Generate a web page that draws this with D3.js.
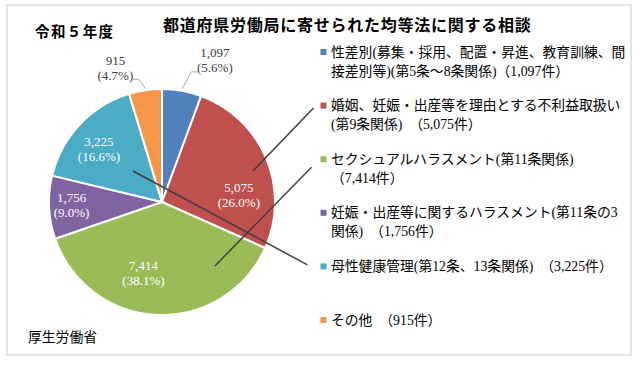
<!DOCTYPE html>
<html>
<head>
<meta charset="utf-8">
<script src="https://cdn.jsdelivr.net/npm/d3@7"></script>
<style>
  html, body { margin: 0; padding: 0; background: #fff; }
  svg { display: block; }
</style>
</head>
<body>
<div id="chart"></div>
<script>
(function() {
	'use strict';

	// data
	var title = '都道府県労働局に寄せられた均等法に関する相談';
	var yearLabel = '令和５年度';
	var source = '厚生労働省';
	var categories = [
		['性差別(募集・採用、配置・昇進、教育訓練、間', '接差別等)(第5条～8条関係)（1,097件）'],
		['婚姻、妊娠・出産等を理由とする不利益取扱い', '(第9条関係)　（5,075件）'],
		['セクシュアルハラスメント(第11条関係)', '（7,414件）'],
		['妊娠・出産等に関するハラスメント(第11条の3', '関係)　（1,756件）'],
		['母性健康管理(第12条、13条関係)　（3,225件）'],
		['その他　（915件）']
	];
	var values = [1097, 5075, 7414, 1756, 3225, 915];
	var valueLabels = ['1,097', '5,075', '7,414', '1,756', '3,225', '915'];
	var percentLabels = ['(5.6%)', '(26.0%)', '(38.1%)', '(9.0%)', '(16.6%)', '(4.7%)'];

	// layout / style
	var WIDTH = 640, HEIGHT = 365;
	var CX = 162, CY = 202, R = 113;
	var COLORS = ['#4F81BD', '#C0504D', '#9BBB59', '#8064A2', '#4BACC6', '#F79646'];
	var SERIF = '"Liberation Serif", "Noto Sans CJK JP", serif';
	var GOTHIC = '"Noto Sans CJK JP", sans-serif';
	var placement = ['out', 'in', 'in', 'in', 'in', 'out'];
	var labelNudge = [[27, 3], [4, 24], [-15, -8.5], [-11.5, -1], [-5.5, 1.3], [-25, 11]];
	// lines from slices to legend entries: polar start (deg, radius), offset from legend marker
	var callouts = [
		{ legend: 1, angle: 71.2, r: 96, dx: -7, dy: 2.5 },
		{ legend: 2, angle: 140.4, r: 83, dx: -9, dy: 8 },
		{ legend: 4, angle: 316.9, r: 42.5, dx: -13, dy: -1.5 }
	];

	var svg = d3.select('#chart').append('svg')
		.attr('width', WIDTH)
		.attr('height', HEIGHT);

	svg.append('rect')
		.attr('x', 7).attr('y', 5)
		.attr('width', 624).attr('height', 350)
		.attr('fill', '#fff')
		.attr('stroke', '#d9d9d9')
		.attr('stroke-width', 1.5);

	svg.append('text')
		.attr('x', 163).attr('y', 24)
		.attr('dominant-baseline', 'central')
		.style('font-family', GOTHIC)
		.style('font-weight', 'bold')
		.style('font-size', '16px')
		.style('letter-spacing', '0.75px')
		.style('fill', '#000')
		.text(title);

	svg.append('text')
		.attr('x', 35).attr('y', 30)
		.attr('dominant-baseline', 'central')
		.style('font-family', GOTHIC)
		.style('font-weight', 'bold')
		.style('font-size', '14.5px')
		.style('letter-spacing', '1.4px')
		.style('fill', '#000')
		.text(yearLabel);

	svg.append('text')
		.attr('x', 28).attr('y', 336)
		.attr('dominant-baseline', 'central')
		.style('font-family', GOTHIC)
		.style('font-size', '13.8px')
		.style('fill', '#000')
		.text(source);

	var pie = d3.pie().sort(null).value(function(d) { return d; });
	var arcs = pie(values);
	var arc = d3.arc().innerRadius(0).outerRadius(R);
	var inArc = d3.arc().innerRadius(R * 0.7).outerRadius(R * 0.7);
	var outArc = d3.arc().innerRadius(R * 1.3).outerRadius(R * 1.3);

	var g = svg.append('g').attr('transform', 'translate(' + CX + ',' + CY + ')');

	g.selectAll('path.slice')
		.data(arcs)
		.enter().append('path')
		.attr('class', 'slice')
		.attr('d', arc)
		.attr('fill', function(d, i) { return COLORS[i]; })
		.attr('stroke', '#fff')
		.attr('stroke-width', 2);

	function polar(angleRad, r) {
		return [r * Math.sin(angleRad), -r * Math.cos(angleRad)];
	}

	arcs.forEach(function(d, i) {
		var inside = placement[i] === 'in';
		var c = (inside ? inArc : outArc).centroid(d);
		var lx = c[0] + labelNudge[i][0];
		var ly = c[1] + labelNudge[i][1];
		var fill = inside ? '#fff' : '#404040';

		var t = g.append('text')
			.attr('text-anchor', 'middle')
			.style('font-family', SERIF)
			.style('font-size', '13px')
			.style('fill', fill);
		t.append('tspan').attr('x', lx).attr('y', ly - 7.5)
			.attr('dominant-baseline', 'central').text(valueLabels[i]);
		t.append('tspan').attr('x', lx).attr('y', ly + 7.5)
			.attr('dominant-baseline', 'central').text(percentLabels[i]);

		if (!inside) {
			var mid = (d.startAngle + d.endAngle) / 2;
			var p0 = polar(mid, R + 2);
			var side = lx > 0 ? -1 : 1;
			var ex = lx + side * 17.5;
			var ey = ly + 11.5;
			g.append('path')
				.attr('d', d3.line()([p0, [ex + side * 6, ey], [ex, ey]]))
				.attr('fill', 'none')
				.attr('stroke', '#a6a6a6')
				.attr('stroke-width', 1);
		}
	});

	// legend
	var legendY = d3.scalePoint()
		.domain(d3.range(categories.length))
		.range([52, 320]);
	var LEGEND_X = 331;

	var legend = svg.append('g');
	categories.forEach(function(lines, i) {
		var y = legendY(i);
		legend.append('rect')
			.attr('x', 320.5).attr('y', y - 3)
			.attr('width', 6).attr('height', 6)
			.attr('fill', COLORS[i]);
		lines.forEach(function(line, j) {
			legend.append('text')
				.attr('x', LEGEND_X)
				.attr('y', y + j * 19)
				.attr('dominant-baseline', 'central')
				.style('font-family', SERIF)
				.style('font-size', '13.8px')
				.style('fill', '#000')
				.text(line);
		});
	});

	// callout lines
	callouts.forEach(function(c) {
		var p0 = polar(c.angle * Math.PI / 180, c.r);
		var p1 = [320.5 + c.dx - CX, legendY(c.legend) + c.dy - CY];
		g.append('line')
			.attr('x1', p0[0]).attr('y1', p0[1])
			.attr('x2', p1[0]).attr('y2', p1[1])
			.attr('stroke', '#404040')
			.attr('stroke-width', 1.5);
	});
}());
</script>
</body>
</html>
